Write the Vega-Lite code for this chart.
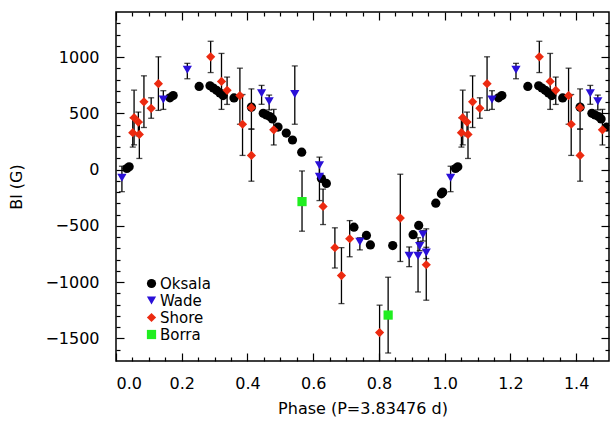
{
  "$schema": "https://vega.github.io/schema/vega-lite/v6.json",
  "width": 493,
  "height": 349,
  "autosize": {"type": "none"},
  "padding": {"left": 116, "top": 12, "right": 1, "bottom": 60},
  "config": {
    "view": {"stroke": "black", "strokeWidth": 1.5},
    "font": "DejaVu Sans",
    "axis": {"grid": false, "domain": false, "labelFont": "DejaVu Sans", "labelFontSize": 16, "labelColor": "black", "tickColor": "black", "tickWidth": 1.2, "titleFont": "DejaVu Sans", "titleFontSize": 16, "titleFontWeight": "normal", "titleColor": "black"},
    "legend": {"orient": "none", "legendX": 28, "legendY": 264, "title": null, "labelFont": "DejaVu Sans", "labelFontSize": 15, "labelColor": "black", "symbolSize": 85, "rowPadding": 1, "labelOffset": 1, "symbolStrokeWidth": 0}
  },
  "data": {"values": [
    {"s": "Oksala", "p": 0.033, "b": 10},
    {"s": "Oksala", "p": 0.040, "b": 25},
    {"s": "Oksala", "p": 0.164, "b": 638},
    {"s": "Oksala", "p": 0.174, "b": 658},
    {"s": "Oksala", "p": 0.253, "b": 739},
    {"s": "Oksala", "p": 0.286, "b": 745},
    {"s": "Oksala", "p": 0.296, "b": 725},
    {"s": "Oksala", "p": 0.306, "b": 704},
    {"s": "Oksala", "p": 0.316, "b": 681},
    {"s": "Oksala", "p": 0.326, "b": 658},
    {"s": "Oksala", "p": 0.359, "b": 637},
    {"s": "Oksala", "p": 0.412, "b": 555},
    {"s": "Oksala", "p": 0.448, "b": 500},
    {"s": "Oksala", "p": 0.458, "b": 485},
    {"s": "Oksala", "p": 0.468, "b": 471},
    {"s": "Oksala", "p": 0.476, "b": 450},
    {"s": "Oksala", "p": 0.493, "b": 378},
    {"s": "Oksala", "p": 0.518, "b": 325},
    {"s": "Oksala", "p": 0.537, "b": 263},
    {"s": "Oksala", "p": 0.565, "b": 155},
    {"s": "Oksala", "p": 0.625, "b": -79},
    {"s": "Oksala", "p": 0.640, "b": -123},
    {"s": "Oksala", "p": 0.724, "b": -511},
    {"s": "Oksala", "p": 0.762, "b": -585},
    {"s": "Oksala", "p": 0.774, "b": -669},
    {"s": "Oksala", "p": 0.842, "b": -675},
    {"s": "Oksala", "p": 0.904, "b": -578},
    {"s": "Oksala", "p": 0.921, "b": -496},
    {"s": "Oksala", "p": 0.973, "b": -298},
    {"s": "Oksala", "p": 0.990, "b": -215},
    {"s": "Oksala", "p": 0.994, "b": -200},
    {"s": "Oksala", "p": 1.033, "b": 10},
    {"s": "Oksala", "p": 1.040, "b": 25},
    {"s": "Oksala", "p": 1.164, "b": 638},
    {"s": "Oksala", "p": 1.174, "b": 658},
    {"s": "Oksala", "p": 1.253, "b": 739},
    {"s": "Oksala", "p": 1.286, "b": 745},
    {"s": "Oksala", "p": 1.296, "b": 725},
    {"s": "Oksala", "p": 1.306, "b": 704},
    {"s": "Oksala", "p": 1.316, "b": 681},
    {"s": "Oksala", "p": 1.326, "b": 658},
    {"s": "Oksala", "p": 1.359, "b": 637},
    {"s": "Oksala", "p": 1.412, "b": 555},
    {"s": "Oksala", "p": 1.448, "b": 500},
    {"s": "Oksala", "p": 1.458, "b": 485},
    {"s": "Oksala", "p": 1.468, "b": 471},
    {"s": "Oksala", "p": 1.476, "b": 450},
    {"s": "Oksala", "p": 1.493, "b": 378},
    {"s": "Wade", "p": 0.018, "b": -73, "lo": -196, "hi": 30},
    {"s": "Wade", "p": 0.144, "b": 623, "lo": 535, "hi": 701},
    {"s": "Wade", "p": 0.217, "b": 886, "lo": 807, "hi": 944},
    {"s": "Wade", "p": 0.443, "b": 678, "lo": 580, "hi": 748},
    {"s": "Wade", "p": 0.466, "b": 608, "lo": 530, "hi": 662},
    {"s": "Wade", "p": 0.544, "b": 672, "lo": 403, "hi": 921},
    {"s": "Wade", "p": 0.619, "b": 38, "lo": -40, "hi": 111},
    {"s": "Wade", "p": 0.619, "b": -64, "lo": -275, "hi": 60},
    {"s": "Wade", "p": 0.742, "b": -640, "lo": -713, "hi": -605},
    {"s": "Wade", "p": 0.892, "b": -766, "lo": -862, "hi": -687},
    {"s": "Wade", "p": 0.919, "b": -766, "lo": -1087, "hi": -605},
    {"s": "Wade", "p": 0.924, "b": -678, "lo": -720, "hi": -640},
    {"s": "Wade", "p": 0.934, "b": -576, "lo": -634, "hi": -541},
    {"s": "Wade", "p": 0.944, "b": -737, "lo": -790, "hi": -690},
    {"s": "Wade", "p": 1.018, "b": -73, "lo": -196, "hi": 30},
    {"s": "Wade", "p": 1.144, "b": 623, "lo": 535, "hi": 701},
    {"s": "Wade", "p": 1.217, "b": 886, "lo": 807, "hi": 944},
    {"s": "Wade", "p": 1.443, "b": 678, "lo": 580, "hi": 748},
    {"s": "Wade", "p": 1.466, "b": 608, "lo": 530, "hi": 662},
    {"s": "Shore", "p": 0.051, "b": 328, "lo": 200, "hi": 460},
    {"s": "Shore", "p": 0.055, "b": 461, "lo": 220, "hi": 706},
    {"s": "Shore", "p": 0.068, "b": 422, "lo": 300, "hi": 511},
    {"s": "Shore", "p": 0.071, "b": 313, "lo": 99, "hi": 420},
    {"s": "Shore", "p": 0.085, "b": 602, "lo": 374, "hi": 833},
    {"s": "Shore", "p": 0.107, "b": 544, "lo": 456, "hi": 638},
    {"s": "Shore", "p": 0.129, "b": 763, "lo": 526, "hi": 1002},
    {"s": "Shore", "p": 0.288, "b": 1002, "lo": 862, "hi": 1140},
    {"s": "Shore", "p": 0.321, "b": 783, "lo": 535, "hi": 1032},
    {"s": "Shore", "p": 0.338, "b": 704, "lo": 579, "hi": 822},
    {"s": "Shore", "p": 0.377, "b": 658, "lo": 403, "hi": 901},
    {"s": "Shore", "p": 0.385, "b": 403, "lo": 126, "hi": 667},
    {"s": "Shore", "p": 0.412, "b": 550, "lo": 360, "hi": 717},
    {"s": "Shore", "p": 0.412, "b": 126, "lo": -103, "hi": 360},
    {"s": "Shore", "p": 0.480, "b": 353, "lo": 219, "hi": 535},
    {"s": "Shore", "p": 0.630, "b": -327, "lo": -488, "hi": -173},
    {"s": "Shore", "p": 0.666, "b": -693, "lo": -874, "hi": -517},
    {"s": "Shore", "p": 0.686, "b": -941, "lo": -1190, "hi": -693},
    {"s": "Shore", "p": 0.711, "b": -614, "lo": -774, "hi": -453},
    {"s": "Shore", "p": 0.802, "b": -1447, "lo": -1760, "hi": -1204},
    {"s": "Shore", "p": 0.865, "b": -430, "lo": -816, "hi": -41},
    {"s": "Shore", "p": 0.944, "b": -845, "lo": -1160, "hi": -526},
    {"s": "Shore", "p": 1.051, "b": 328, "lo": 200, "hi": 460},
    {"s": "Shore", "p": 1.055, "b": 461, "lo": 220, "hi": 706},
    {"s": "Shore", "p": 1.068, "b": 422, "lo": 300, "hi": 511},
    {"s": "Shore", "p": 1.071, "b": 313, "lo": 99, "hi": 420},
    {"s": "Shore", "p": 1.085, "b": 602, "lo": 374, "hi": 833},
    {"s": "Shore", "p": 1.107, "b": 544, "lo": 456, "hi": 638},
    {"s": "Shore", "p": 1.129, "b": 763, "lo": 526, "hi": 1002},
    {"s": "Shore", "p": 1.288, "b": 1002, "lo": 862, "hi": 1140},
    {"s": "Shore", "p": 1.321, "b": 783, "lo": 535, "hi": 1032},
    {"s": "Shore", "p": 1.338, "b": 704, "lo": 579, "hi": 822},
    {"s": "Shore", "p": 1.377, "b": 658, "lo": 403, "hi": 901},
    {"s": "Shore", "p": 1.385, "b": 403, "lo": 126, "hi": 667},
    {"s": "Shore", "p": 1.412, "b": 550, "lo": 360, "hi": 717},
    {"s": "Shore", "p": 1.412, "b": 126, "lo": -103, "hi": 360},
    {"s": "Shore", "p": 1.480, "b": 353, "lo": 219, "hi": 535},
    {"s": "Borra", "p": 0.566, "b": -284, "lo": -547, "hi": -12},
    {"s": "Borra", "p": 0.828, "b": -1292, "lo": -1629, "hi": -956}
  ]},
  "resolve": {"axis": {"x": "independent", "y": "independent"}},
  "layer": [
    {
      "transform": [{"filter": "isValid(datum.lo)"}],
      "mark": {"type": "rule", "color": "black", "strokeWidth": 1.3, "clip": true},
      "encoding": {
        "x": {"field": "p", "type": "quantitative", "scale": {"domain": [0, 1.5], "nice": false, "zero": false},
              "axis": {"orient": "bottom", "values": [0, 0.2, 0.4, 0.6, 0.8, 1.0, 1.2, 1.4], "format": ".1f", "tickSize": -8, "labelPadding": 22, "title": "Phase (P=3.83476 d)", "titlePadding": 9}},
        "y": {"field": "lo", "type": "quantitative", "scale": {"domain": [-1700, 1400], "nice": false, "zero": false},
              "axis": {"orient": "left", "values": [-1500, -1000, -500, 0, 500, 1000], "format": "d", "tickSize": -8, "labelPadding": 25, "title": "Bl (G)", "titlePadding": 20}},
        "y2": {"field": "hi"}
      }
    },
    {
      "transform": [{"filter": "isValid(datum.lo)"}],
      "mark": {"type": "tick", "orient": "horizontal", "color": "black", "size": 6, "thickness": 1.3, "clip": true},
      "encoding": {
        "x": {"field": "p", "type": "quantitative",
              "axis": {"orient": "bottom", "values": [0.05, 0.1, 0.15, 0.25, 0.3, 0.35, 0.45, 0.5, 0.55, 0.65, 0.7, 0.75, 0.85, 0.9, 0.95, 1.05, 1.1, 1.15, 1.25, 1.3, 1.35, 1.45], "tickSize": -4, "labels": false, "title": null}},
        "y": {"field": "lo", "type": "quantitative",
              "axis": {"orient": "left", "values": [-1600, -1400, -1300, -1200, -1100, -900, -800, -700, -600, -400, -300, -200, -100, 100, 200, 300, 400, 600, 700, 800, 900, 1100, 1200, 1300], "tickSize": -4, "labels": false, "title": null}}
      }
    },
    {
      "transform": [{"filter": "isValid(datum.hi)"}],
      "mark": {"type": "tick", "orient": "horizontal", "color": "black", "size": 6, "thickness": 1.3, "clip": true},
      "encoding": {
        "x": {"field": "p", "type": "quantitative",
              "axis": {"orient": "top", "values": [0, 0.2, 0.4, 0.6, 0.8, 1.0, 1.2, 1.4], "tickSize": -8, "labels": false, "title": null}},
        "y": {"field": "hi", "type": "quantitative",
              "axis": {"orient": "right", "values": [-1500, -1000, -500, 0, 500, 1000], "tickSize": -8, "labels": false, "title": null}}
      }
    },
    {
      "mark": {"type": "point", "filled": true, "size": 85, "opacity": 1, "clip": true},
      "encoding": {
        "x": {"field": "p", "type": "quantitative",
              "axis": {"orient": "top", "values": [0.05, 0.1, 0.15, 0.25, 0.3, 0.35, 0.45, 0.5, 0.55, 0.65, 0.7, 0.75, 0.85, 0.9, 0.95, 1.05, 1.1, 1.15, 1.25, 1.3, 1.35, 1.45], "tickSize": -4, "labels": false, "title": null}},
        "y": {"field": "b", "type": "quantitative",
              "axis": {"orient": "right", "values": [-1600, -1400, -1300, -1200, -1100, -900, -800, -700, -600, -400, -300, -200, -100, 100, 200, 300, 400, 600, 700, 800, 900, 1100, 1200, 1300], "tickSize": -4, "labels": false, "title": null}},
        "color": {"field": "s", "type": "nominal", "scale": {"domain": ["Oksala", "Wade", "Shore", "Borra"], "range": ["#000000", "#2a10d8", "#ec2a10", "#20ee20"]}},
        "shape": {"field": "s", "type": "nominal", "scale": {"domain": ["Oksala", "Wade", "Shore", "Borra"], "range": ["circle", "triangle-down", "diamond", "square"]}}
      }
    }
  ]
}
